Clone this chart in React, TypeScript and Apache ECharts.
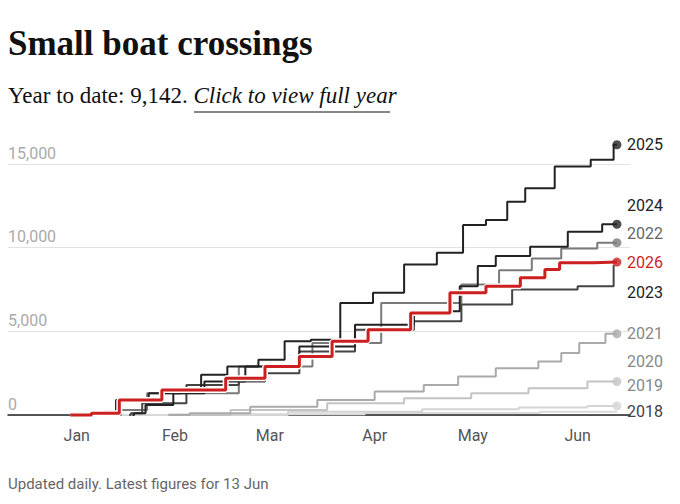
import * as echarts from "echarts";
import { useEffect, useRef } from "react";

const monthTicks = [2, 32, 61, 93, 123, 155];
const monthLabels = ["Jan", "Feb", "Mar", "Apr", "May", "Jun"];

const y2025 = [[10, 0], [11, 200], [17, 900], [31, 1300], [37, 1500], [43, 2400], [53, 2900], [62, 3300], [69, 4400], [78, 4500], [87, 6700], [98, 7300], [106, 9000], [118, 9700], [122, 11350], [132, 11650], [135, 12750], [143, 13550], [153, 14850], [165, 15250], [167, 16150]];
const y2024 = [[19, 0], [20, 100], [26, 600], [37, 1300], [45, 2000], [62, 2900], [78, 4100], [96, 5400], [114, 6200], [124, 7700], [125, 8900], [135, 9500], [146, 10050], [158, 10950], [167, 11400]];
const y2023 = [[18, 0], [19, 100], [25, 700], [46, 1800], [57, 2000], [62, 2500], [78, 3800], [96, 5100], [114, 5600], [125, 6600], [145, 7500], [165, 7700], [167, 9050]];
const y2022 = [[15, 0], [16, 300], [31, 1300], [72, 2900], [76, 4300], [114, 6700], [125, 7800], [137, 8650], [145, 9350], [155, 9950], [167, 10300]];
const y2026 = [[0, 0], [13, 100], [17, 900], [39, 1500], [56, 2200], [63, 2900], [77, 3500], [83, 4400], [99, 5100], [109, 6100], [123, 7300], [131, 7700], [144, 8200], [146, 8700], [153, 9100], [167, 9142]];
const y2021 = [[30, 0], [43, 100], [67, 500], [84, 900], [102, 1400], [114, 1800], [123, 2300], [137, 2800], [149, 3200], [151, 3700], [160, 4300], [167, 4850]];
const y2020 = [[31, 0], [67, 300], [90, 700], [114, 1000], [131, 1300], [149, 1600], [167, 2000]];
const y2019 = [[43, 0], [90, 200], [125, 350], [149, 450], [167, 540]];
const y2018 = [[0, 0], [60, 50], [120, 120], [167, 200]];

const seriesDefs = [
  { name: "2018", data: y2018, color: "#d9d9d9", label: "#444", dy: 0, dot: false, width: 2 },
  { name: "2019", data: y2019, color: "#d4d4d4", label: "#888", dy: -20, dot: true, width: 2 },
  { name: "2020", data: y2020, color: "#c4c4c4", label: "#888", dy: -20, dot: true, width: 2 },
  { name: "2021", data: y2021, color: "#aaaaaa", label: "#888", dy: 0, dot: true, width: 2 },
  { name: "2022", data: y2022, color: "#7a7a7a", label: "#666", dy: -9, dot: true, width: 2 },
  { name: "2023", data: y2023, color: "#444444", label: "#222", dy: 29, dot: false, width: 2 },
  { name: "2024", data: y2024, color: "#222222", label: "#222", dy: -19, dot: true, width: 2 },
  { name: "2025", data: y2025, color: "#222222", label: "#222", dy: 0, dot: true, width: 2 },
  { name: "2026", data: y2026, color: "#cc1f1f", label: "#cc1f1f", dy: 0, dot: true, width: 3 },
];

export default function App() {
  const ref = useRef<HTMLDivElement | null>(null);

  useEffect(() => {
    if (!ref.current) return;
    const chart = echarts.init(ref.current, undefined, { renderer: "svg" });
    const lines: any[] = [];
    seriesDefs.forEach((s) => {
      if (s.name === "2026") {
        // white halo under the current year
        lines.push({
          type: "line",
          step: "middle",
          clip: false,
          symbol: "none",
          silent: true,
          data: s.data,
          lineStyle: { color: "#fff", width: 6 },
          z: 4,
        });
      }
      lines.push({
        name: s.name,
        type: "line",
        step: "middle",
        clip: false,
        symbol: "none",
        data: s.data,
        lineStyle: { color: s.color, width: s.width },
        itemStyle: { color: s.color },
        z: s.name === "2026" ? 5 : 2,
        endLabel: {
          show: true,
          formatter: s.name,
          color: s.label,
          fontSize: 16,
          fontFamily: "Roboto",
          distance: 10,
          offset: [0, s.dy],
        },
      });
    });
    const dots = seriesDefs
      .filter((s) => s.dot)
      .map((s) => ({ value: s.data[s.data.length - 1], itemStyle: { color: s.color } }));

    chart.setOption({
      animation: false,
      grid: { left: 8, right: 50, top: 164, bottom: 89 },
      xAxis: {
        type: "value",
        min: -19,
        max: 171,
        splitLine: { show: false },
        axisLine: { show: true, onZero: false, lineStyle: { color: "#222", width: 1.5 } },
        axisTick: { show: false },
        axisLabel: {
          customValues: monthTicks,
          formatter: (v: number) => monthLabels[monthTicks.indexOf(v)] ?? "",
          color: "#555",
          fontSize: 16,
          fontFamily: "Roboto",
          margin: 12,
        },
      },
      yAxis: {
        type: "value",
        min: 0,
        max: 15000,
        interval: 5000,
        axisLine: { show: false },
        axisTick: { show: false },
        splitLine: { lineStyle: { color: "#e2e2e2" } },
        axisLabel: {
          inside: true,
          margin: 0,
          verticalAlign: "bottom",
          padding: [0, 0, 3, 0],
          color: "#aaa",
          fontSize: 16,
          fontFamily: "Roboto",
          formatter: (v: number) => v.toLocaleString("en-US"),
        },
      },
      series: [
        ...lines,
        { type: "scatter", clip: false, symbol: "circle", symbolSize: 9, data: dots, z: 6, silent: true },
      ],
      graphic: [
        {
          type: "text",
          left: 8,
          top: 26,
          style: { text: "Small boat crossings", font: "bold 35px 'Liberation Serif'", fill: "#111" },
        },
        {
          type: "text",
          left: 8,
          top: 84,
          style: {
            text: "{a|Year to date: 9,142. }{b|Click to view full year}",
            rich: {
              a: { font: "23px 'Liberation Serif'", fill: "#111" },
              b: { font: "italic 23px 'Liberation Serif'", fill: "#111" },
            },
          },
        },
        { type: "line", shape: { x1: 194, y1: 112, x2: 390, y2: 112 }, style: { stroke: "#111", lineWidth: 1.2 } },
        {
          type: "text",
          left: 8,
          top: 476,
          style: { text: "Updated daily. Latest figures for 13 Jun", font: "15px Roboto", fill: "#666" },
        },
      ],
    });
    return () => chart.dispose();
  }, []);

  return <div ref={ref} style={{ position: "absolute", left: 0, top: 0, width: 680, height: 504 }} />;
}
